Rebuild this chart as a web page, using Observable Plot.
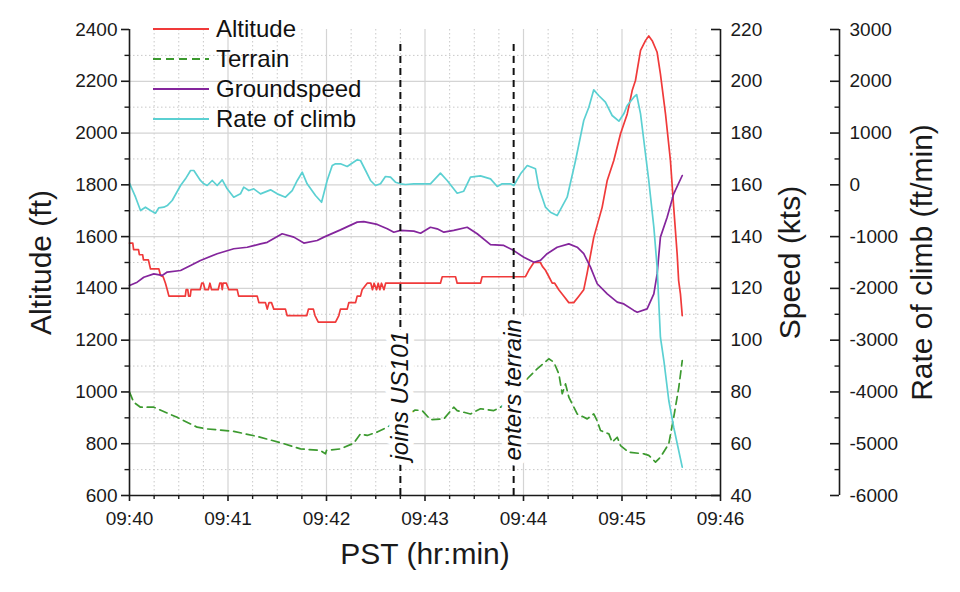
<!DOCTYPE html>
<html><head><meta charset="utf-8">
<script src="https://cdn.jsdelivr.net/npm/d3@7"></script>
<script src="https://cdn.jsdelivr.net/npm/@observablehq/plot@0.6"></script>
<style>
body{margin:0;background:#fff;font-family:"Liberation Sans",Arial,sans-serif}
#wrap{position:relative;width:960px;height:592px}
#legend{position:absolute;left:153px;top:14px;font-size:24px;color:#111;line-height:30px}
#legend div{display:flex;align-items:center;height:30px}
#legend svg{margin-right:7px}
</style>
</head><body>
<div id="wrap"><div id="chart"></div><div id="legend"></div></div>
<script>
// time in seconds after 09:40 PST
const xTickLabels = ["09:40","09:41","09:42","09:43","09:44","09:45","09:46"];
const seriesNames = ["Altitude","Terrain","Groundspeed","Rate of climb"];
const seriesColors = ["#f03a3a","#3c9a2f","#84259c","#5bd0d2"];
const altitudeTicks = [600,800,1000,1200,1400,1600,1800,2000,2200,2400];
const speedTicks = [40,60,80,100,120,140,160,180,200,220];
const rocTicks = [-6000,-5000,-4000,-3000,-2000,-1000,0,1000,2000,3000];

// [seconds, ft]
const altitude = [[0,1575],[2,1575],[2.5,1550],[5.5,1550],[6,1530],[8,1530],[8.5,1510],[11.5,1510],[12.8,1475],[17.9,1475],[18.9,1450],[20.5,1445],[21.9,1420],[23,1395],[24,1370],[34,1370],[34.5,1395],[35.5,1395],[36,1370],[37,1370],[37.5,1395],[43,1395],[44,1420],[45,1420],[46,1395],[48,1395],[49,1420],[50,1395],[54,1395],[55,1420],[56,1420],[56.5,1395],[57,1420],[59,1420],[60.5,1395],[65.6,1395],[66.5,1370],[77.8,1370],[78.8,1345],[82.8,1345],[83.9,1320],[85,1345],[86.5,1345],[87.9,1320],[95,1320],[96,1295],[108,1295],[109,1320],[112,1320],[113,1295],[115,1270],[125.5,1270],[127.5,1295],[128.5,1320],[132.6,1320],[133.6,1345],[137.7,1345],[138.7,1370],[140.7,1370],[141.7,1395],[144.8,1420],[147,1420],[148,1395],[149,1420],[150.5,1395],[151.5,1420],[152.5,1395],[153.5,1420],[155,1395],[156,1420],[189.4,1420],[190.5,1445],[198.6,1445],[199.6,1420],[213.8,1420],[214.8,1445],[241.2,1445],[243.2,1470],[246.3,1500],[250.3,1500],[251.5,1485],[253.4,1470],[255.5,1445],[257.5,1420],[259,1420],[261.5,1395],[264.6,1370],[267.6,1345],[270.6,1345],[273.7,1370],[276.7,1395],[278.8,1460],[282.8,1597],[287.9,1713],[291,1817],[295,1894],[299.1,1997],[303.2,2074],[306.2,2164],[308.2,2203],[311.3,2319],[314.3,2357],[316.3,2375],[318.4,2357],[321.4,2312],[323.4,2229],[326.5,2074],[329.5,1894],[331.5,1713],[333.6,1533],[334.5,1430],[335.6,1379],[336.7,1295]];

// [seconds, ft]
const terrain = [[0,999],[2.6,960],[6.7,941],[14.8,941],[29,902],[41.2,864],[47.3,857],[63.5,848],[77.8,828],[92,804],[104.2,780],[116.3,774],[119.4,761],[120,774],[128.5,780],[136.6,802],[140.7,838],[144.8,832],[150.9,845],[157,864],[168,905],[174,930],[178.3,928],[183.3,893],[191.5,896],[197.5,941],[199.6,928],[207.7,915],[213.8,935],[221.9,928],[226,941],[234,980],[242.3,1051],[248.3,1089],[255.4,1128],[258.5,1115],[261.5,1070],[263.6,993],[265.6,1031],[267.6,980],[272.7,915],[278.8,896],[282.8,915],[284.8,890],[286.9,851],[292,838],[294,806],[297.1,825],[299.1,793],[304.1,767],[313.3,761],[316.3,755],[320.4,729],[323.4,748],[328.5,800],[331.5,902],[334.6,1018],[336.7,1121]];

// [seconds, kts]
const groundspeed = [[0,121.1],[4.7,122.4],[8.7,124.3],[14.8,125.6],[19.9,125],[23,126.3],[31.1,126.9],[37.2,128.8],[43.2,130.8],[53.4,133.4],[63.5,135.3],[71.7,135.9],[79.8,137.2],[83.9,137.8],[93,141.1],[100.1,139.8],[106.2,137.5],[114.3,138.5],[118.4,139.8],[128.5,142.6],[138.7,145.6],[142.7,145.8],[150.9,144.7],[157,143],[161,141.7],[165.1,142.4],[173.2,142.1],[177.3,141.3],[183.3,143.6],[187.4,143],[191.5,141.7],[197.5,142.4],[205.7,143.6],[211.8,141.1],[219.9,136.9],[228,136.6],[234.1,134.6],[240.2,132],[246.3,130.1],[250.3,130.8],[254.4,133.4],[260.5,135.9],[267.6,137.2],[272.7,135.9],[276.7,133.4],[280.8,128.2],[284.9,121.8],[291,117.9],[297.1,114.7],[301.1,114],[307.2,111.5],[309.3,110.8],[315.3,112.1],[319.4,117.9],[321.4,125.6],[323.4,139.8],[327.5,147.5],[331.5,156.5],[336.7,163.6]];

// [seconds, ft/min]
const rateOfClimb = [[0,31],[3.7,-239],[6.7,-496],[9.7,-432],[12.8,-496],[15.8,-548],[17.8,-444],[20.9,-432],[23,-400],[26,-303],[31.1,-13],[34.1,116],[37.2,277],[39.2,277],[43.2,84],[45.3,20],[47.3,-13],[50.4,84],[53.4,-13],[56.5,97],[59.5,-77],[63.5,-239],[67.6,-174],[69.6,-45],[72.7,-110],[75.7,-77],[79.8,-174],[85.9,-97],[90,-174],[95,-239],[99.1,-110],[102.2,84],[105.2,244],[108.2,20],[113.3,-206],[117,-336],[120.4,84],[123.5,373],[125.5,406],[128.5,406],[132.6,354],[138.7,483],[140.7,470],[143.8,277],[146.8,84],[149.8,-13],[152.9,20],[155.9,161],[159,148],[162,51],[165.1,20],[168.1,6],[173.2,20],[183.3,20],[189.4,225],[193.5,84],[199.6,-162],[203.6,-123],[207.7,148],[213.8,174],[219.9,116],[224,-32],[227,20],[232.1,20],[234.1,-13],[238.2,213],[242.3,373],[247.3,309],[249.3,-45],[253.4,-432],[256.4,-529],[260.5,-593],[266.6,-239],[271.7,470],[276.7,1242],[279.8,1499],[282.8,1835],[285.8,1725],[289.9,1596],[294,1339],[298.1,1229],[301.1,1371],[303.2,1532],[307.2,1692],[308.9,1744],[311.3,1371],[313.3,856],[316.3,84],[319.4,-818],[321.4,-1591],[323.4,-2943],[325.5,-3393],[328.5,-4165],[331.5,-4681],[336.7,-5453]];

const events = [{time:165, label:"joins US101"},{time:234, label:"enters terrain"}];

// secondary axes mapped onto the altitude scale
const speedToAlt = s => 600 + (s - 40) * 10;
const rocToAlt = r => 600 + (r + 6000) * 0.2;

const minorAlt = d3.range(700, 2400, 200);
const minorSpeed = d3.range(50, 220, 20);
const minorRoc = d3.range(-5500, 3000, 1000);
const minorSec = d3.range(15, 360, 15).filter(t => t % 60);
const majorSec = d3.range(0, 361, 60);
const ink = "#1a1a1a";
const tickFont = 19;
const titleFont = 30;
const ROC_OFFSET = 119;

const chart = Plot.plot({
  width: 960, height: 592,
  marginLeft: 129, marginRight: 240, marginTop: 29, marginBottom: 97,
  x: {domain: [0, 360], axis: null},
  y: {domain: [600, 2400], axis: null},
  style: {fontFamily: "Liberation Sans, Arial, sans-serif", color: ink, background: "white"},
  marks: [
    Plot.gridX(minorSec, {stroke: "#c8c8c8", strokeOpacity: 1, strokeDasharray: "1.5,2.5"}),
    Plot.gridY(minorAlt, {stroke: "#c8c8c8", strokeOpacity: 1, strokeDasharray: "1.5,2.5"}),
    Plot.gridX(d3.range(60, 360, 60), {stroke: "#d4d4d4", strokeOpacity: 1, strokeWidth: 1.2}),
    Plot.gridY(d3.range(800, 2400, 200), {stroke: "#d4d4d4", strokeOpacity: 1, strokeWidth: 1.2}),

    Plot.line(terrain, {x: d => d[0], y: d => d[1], stroke: seriesColors[1], strokeWidth: 1.7, strokeDasharray: "8,5"}),
    Plot.line(altitude, {x: d => d[0], y: d => d[1], stroke: seriesColors[0], strokeWidth: 1.7}),
    Plot.line(groundspeed, {x: d => d[0], y: d => speedToAlt(d[1]), stroke: seriesColors[2], strokeWidth: 1.7}),
    Plot.line(rateOfClimb, {x: d => d[0], y: d => rocToAlt(d[1]), stroke: seriesColors[3], strokeWidth: 1.7}),

    Plot.ruleX(events, {x: "time", y1: 600, y2: 2360, stroke: "#111", strokeWidth: 2, strokeDasharray: "7,5"}),
    Plot.text(events, {x: "time", y: 735, text: "label", rotate: -90, textAnchor: "start", fontStyle: "italic", fontSize: 24, fill: "#111", stroke: "white", strokeWidth: 12, paintOrder: "stroke"}),

    // axis lines
    Plot.ruleX([0], {stroke: ink, strokeWidth: 1.6}),
    Plot.ruleX([360], {stroke: ink, strokeWidth: 1.6}),
    Plot.ruleX([360], {stroke: ink, strokeWidth: 1.6, dx: ROC_OFFSET}),
    Plot.ruleY([600], {x1: 0, x2: 360, stroke: ink, strokeWidth: 1.6}),

    // left axis ticks (outward) and labels
    Plot.ruleY(altitudeTicks, {x1: 0, x2: 0, insetLeft: -8, stroke: ink, strokeWidth: 1.6}),
    Plot.ruleY(minorAlt, {x1: 0, x2: 0, insetLeft: -4.5, stroke: ink, strokeWidth: 1.4}),
    Plot.text(altitudeTicks, {y: d => d, text: d => String(d), frameAnchor: "left", dx: -12, textAnchor: "end", fontSize: tickFont, fill: ink}),

    // bottom axis
    Plot.ruleX(majorSec, {y1: 600, y2: 600, insetBottom: -6, stroke: ink, strokeWidth: 1.6}),
    Plot.ruleX(minorSec, {y1: 600, y2: 600, insetBottom: -4, stroke: ink, strokeWidth: 1.4}),
    Plot.text(majorSec, {x: d => d, text: d => xTickLabels[d / 60], frameAnchor: "bottom", dy: 29, fontSize: tickFont, fill: ink}),

    // speed axis (ticks inward)
    Plot.ruleY(speedTicks, {y: speedToAlt, x1: 360, x2: 360, insetLeft: -9, stroke: ink, strokeWidth: 1.6}),
    Plot.ruleY(minorSpeed, {y: speedToAlt, x1: 360, x2: 360, insetLeft: -4.5, stroke: ink, strokeWidth: 1.4}),
    Plot.text(speedTicks, {y: speedToAlt, text: d => String(d), frameAnchor: "right", dx: 10, textAnchor: "start", fontSize: tickFont, fill: ink}),

    // rate of climb axis
    Plot.ruleY(rocTicks, {y: rocToAlt, x1: 360, x2: 360, insetLeft: -9, dx: ROC_OFFSET, stroke: ink, strokeWidth: 1.6}),
    Plot.ruleY(minorRoc, {y: rocToAlt, x1: 360, x2: 360, insetLeft: -4.5, dx: ROC_OFFSET, stroke: ink, strokeWidth: 1.4}),
    Plot.text(rocTicks, {y: rocToAlt, text: d => String(d), frameAnchor: "right", dx: ROC_OFFSET + 10, textAnchor: "start", fontSize: tickFont, fill: ink}),

    // axis titles
    Plot.text(["Altitude (ft)"], {frameAnchor: "left", dx: -88, rotate: -90, textAnchor: "middle", fontSize: titleFont, fill: ink}),
    Plot.text(["PST (hr:min)"], {frameAnchor: "bottom", dy: 68, textAnchor: "middle", fontSize: titleFont, fill: ink}),
    Plot.text(["Speed (kts)"], {frameAnchor: "right", dx: 70, rotate: -90, textAnchor: "middle", fontSize: titleFont, fill: ink}),
    Plot.text(["Rate of climb (ft/min)"], {frameAnchor: "right", dx: 202, rotate: -90, textAnchor: "middle", fontSize: titleFont, fill: ink})
  ]
});
document.getElementById("chart").appendChild(chart);

const legend = document.getElementById("legend");
seriesNames.forEach((name, i) => {
  const row = document.createElement("div");
  const dash = i === 1 ? ' stroke-dasharray="8,5"' : "";
  row.innerHTML = `<svg width="56" height="10"><line x1="0" x2="56" y1="5" y2="5" stroke="${seriesColors[i]}" stroke-width="2"${dash}/></svg><span>${name}</span>`;
  legend.appendChild(row);
});
</script>
</body></html>
